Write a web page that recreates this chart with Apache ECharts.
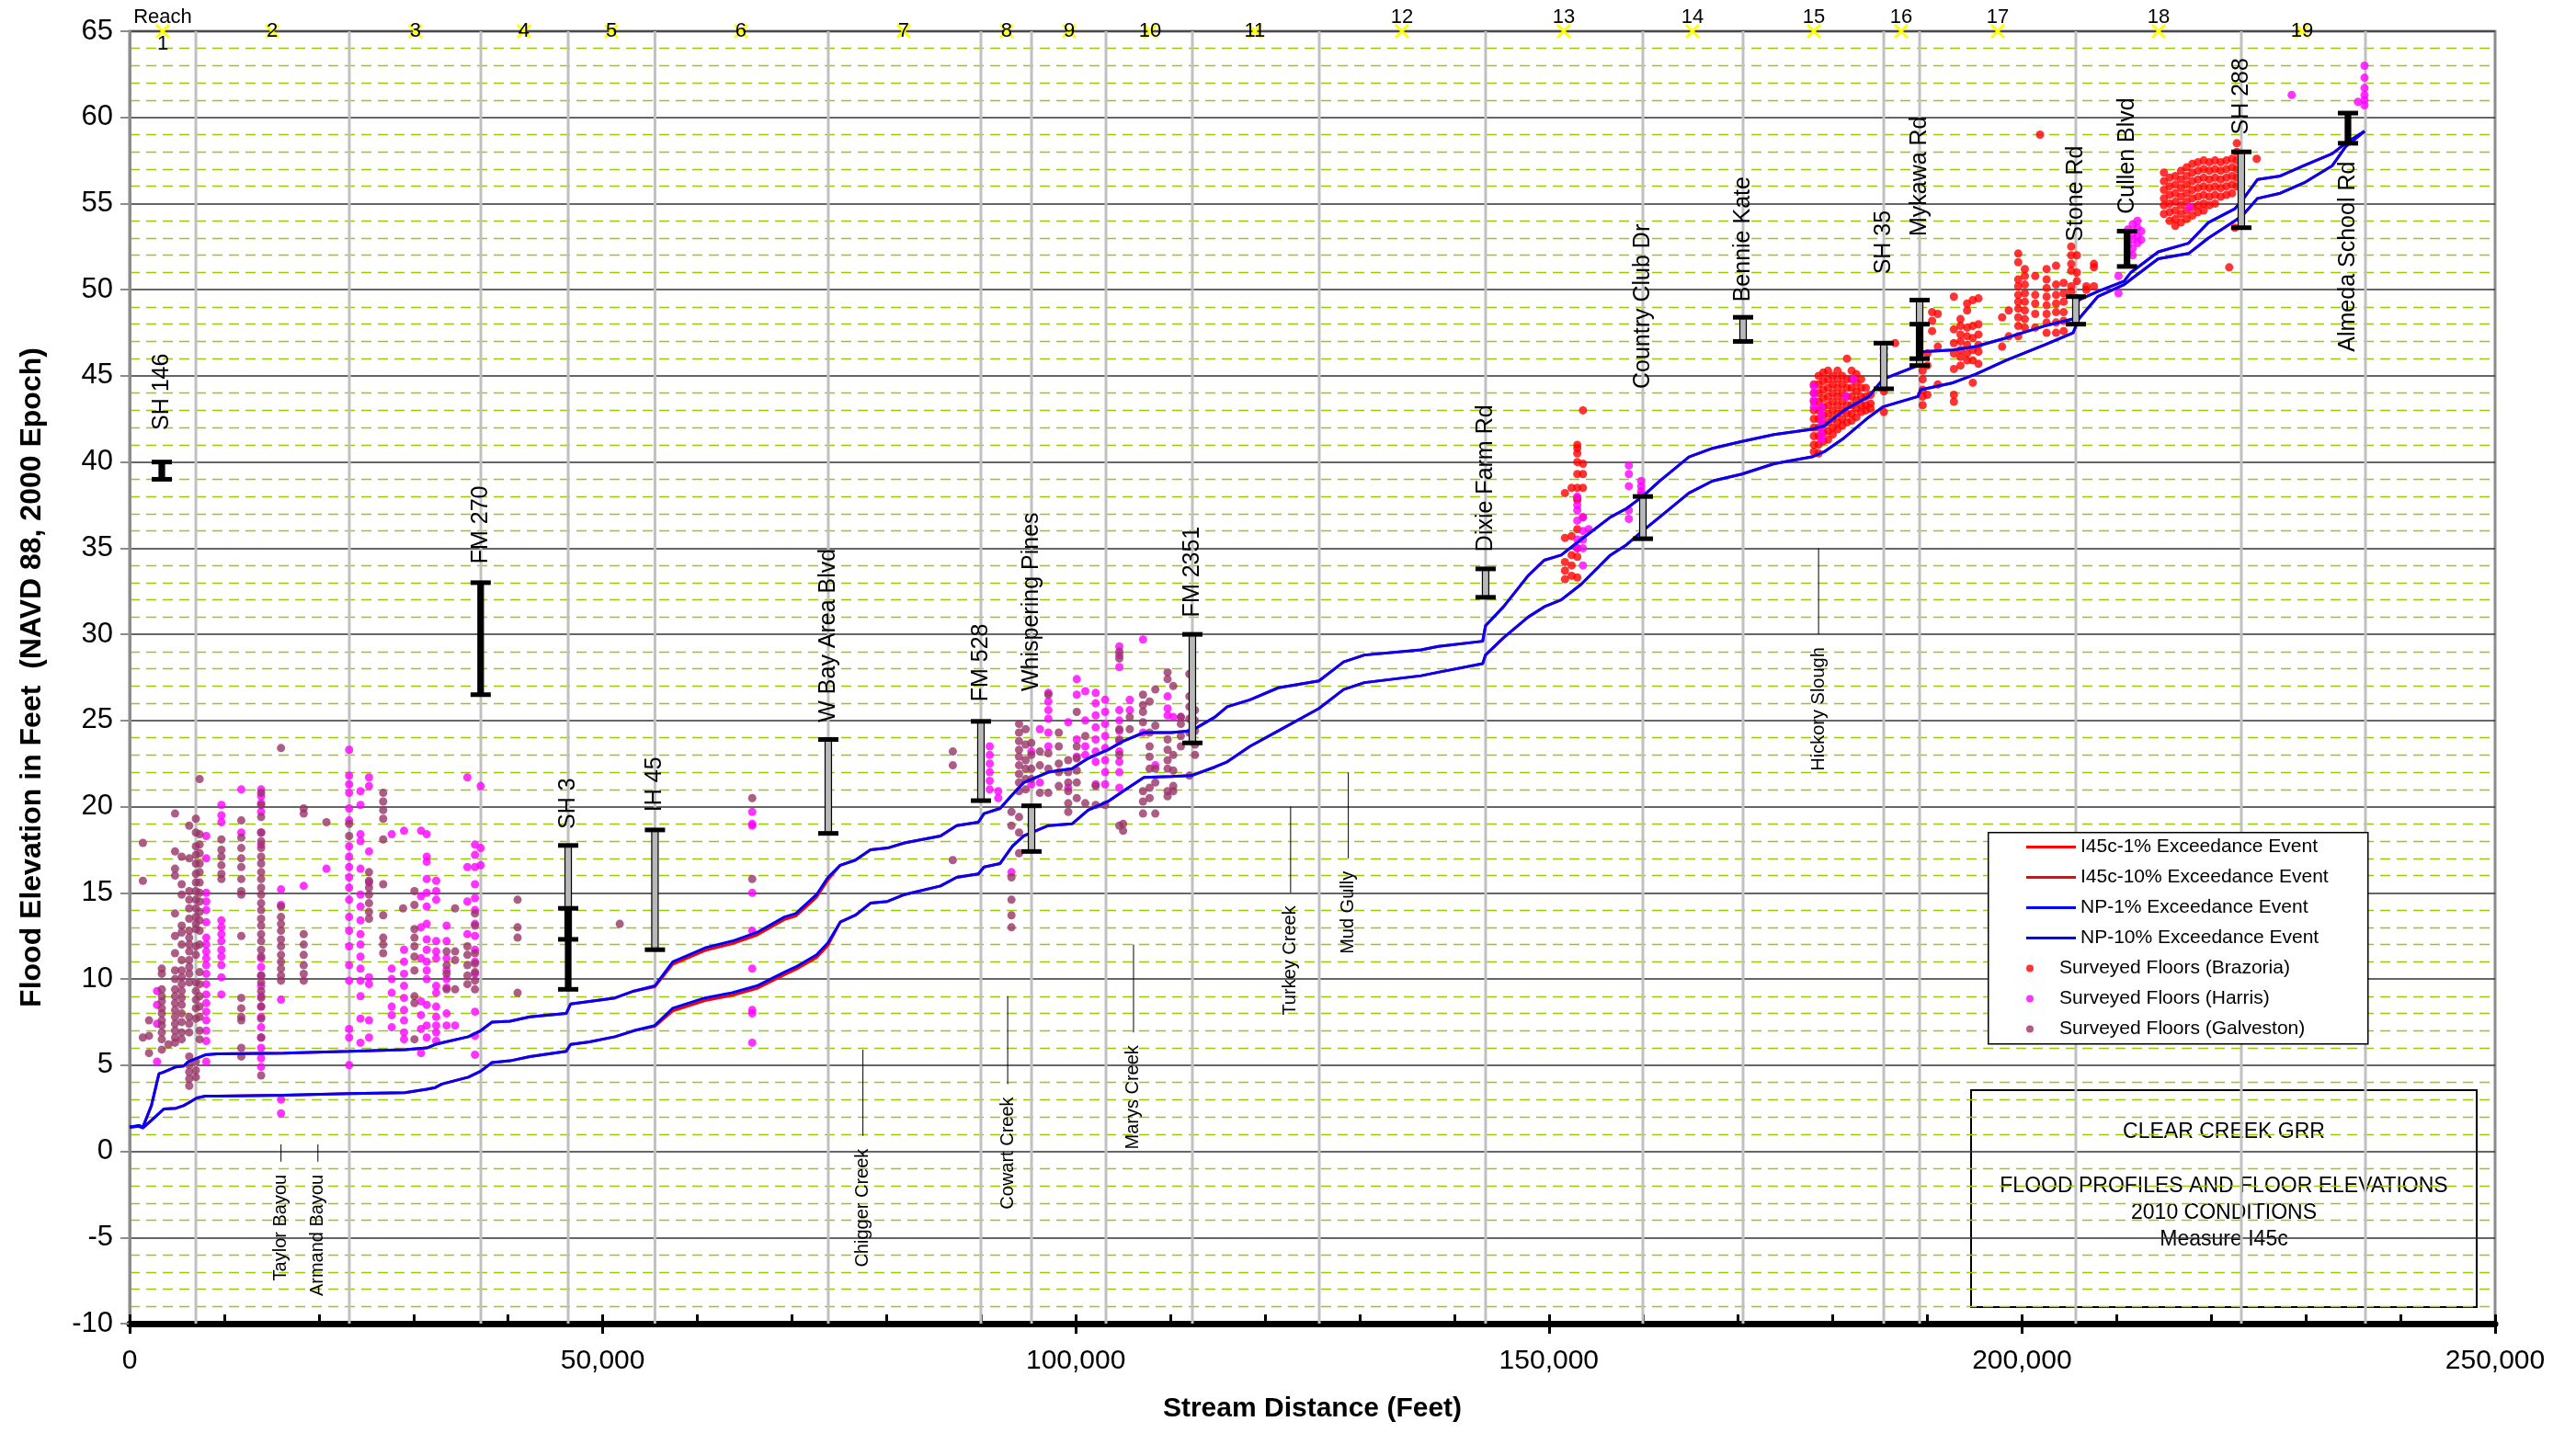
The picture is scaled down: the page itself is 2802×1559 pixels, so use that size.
<!DOCTYPE html>
<html>
<head>
<meta charset="utf-8">
<title>Clear Creek GRR - Flood Profiles and Floor Elevations</title>
<script src="https://cdn.jsdelivr.net/npm/echarts/dist/echarts.min.js"></script>
<style>
  html, body { margin: 0; padding: 0; background: #ffffff; }
  #chart { width: 2802px; height: 1559px; }
</style>
</head>
<body>
<div id="chart"></div>
<script>
// ---------------------------------------------------------------------------
// Data
// ---------------------------------------------------------------------------

// Stream stations (feet) shared by the four water-surface profiles
const stations = [
  0, 1000, 1400, 2300, 3100, 3600, 4900, 5700, 6200, 7100,
  8000, 9300, 16300, 23200, 29100, 31400, 32300, 33000, 35800, 37100,
  38300, 40200, 42300, 46150, 46600, 48600, 51300, 53300, 55500, 57400,
  60800, 63700, 66300, 69200, 70400, 72600, 73800, 75100, 76700, 78300,
  80100, 81900, 85700, 87400, 89700, 90300, 92000, 93300, 94500, 97100,
  99600, 101300, 103400, 105000, 107200, 110100, 112200, 114700, 116000, 118400,
  121400, 125700, 128300, 130500, 136500, 138300, 143000, 143300, 145200, 147800,
  149500, 151300, 153400, 156500, 158200, 159900, 161700, 164800, 167300, 170400,
  173800, 177800, 179100, 181200, 183800, 185300, 189000, 189300, 192700, 195100,
  198300, 202400, 205400, 206000, 208000, 210800, 211500, 214400, 217600, 219700,
  222500, 223300, 224900, 227300, 229800, 232800, 234200, 236200
];

// NP (no project) 1% exceedance water surface, ft
const np1 = [
  1.4, 1.5, 1.4, 2.65, 4.5, 4.6, 4.9, 4.95, 5.2, 5.4,
  5.6, 5.65, 5.7, 5.8, 5.9, 6.0, 6.2, 6.3, 6.65, 7.0,
  7.5, 7.55, 7.8, 8.0, 8.55, 8.7, 8.9, 9.3, 9.6, 11.0,
  11.8, 12.2, 12.7, 13.6, 13.8, 14.9, 15.9, 16.6, 16.9, 17.5,
  17.6, 17.9, 18.3, 18.9, 19.1, 19.6, 19.9, 20.7, 21.4, 22.0,
  22.2, 22.8, 23.3, 23.8, 24.3, 24.3, 24.4, 25.2, 25.8, 26.2,
  26.9, 27.3, 28.4, 28.8, 29.1, 29.3, 29.6, 30.5, 31.6, 33.4,
  34.3, 34.6, 35.5, 36.8, 37.3, 38.0, 38.9, 40.3, 40.8, 41.2,
  41.6, 41.9, 42.1, 43.0, 43.8, 44.8, 45.6, 46.4, 46.5, 46.7,
  47.2, 47.9, 48.3, 49.4, 49.9, 50.5, 51.0, 52.2, 52.7, 53.9,
  54.7, 55.2, 56.4, 56.6, 57.2, 57.9, 58.5, 59.2
];

// NP 10% exceedance water surface, ft
const np10 = [
  1.4, 1.45, 1.35, 1.8, 2.2, 2.45, 2.5, 2.65, 2.8, 3.1,
  3.2, 3.2, 3.25, 3.35, 3.4, 3.6, 3.7, 3.9, 4.3, 4.65,
  5.15, 5.25, 5.5, 5.8, 6.2, 6.35, 6.65, 7.0, 7.3, 8.3,
  8.9, 9.2, 9.6, 10.4, 10.7, 11.4, 12.1, 13.3, 13.7, 14.4,
  14.5, 14.9, 15.4, 15.9, 16.1, 16.5, 16.7, 17.7, 18.3, 18.9,
  19.0, 19.8, 20.3, 20.9, 21.7, 21.75, 21.8, 22.3, 22.6, 23.5,
  24.4, 25.7, 26.8, 27.2, 27.6, 27.8, 28.3, 28.8, 29.8, 31.0,
  31.6, 32.0, 32.9, 34.6, 35.2, 36.0, 36.8, 38.2, 38.9, 39.3,
  39.9, 40.3, 40.6, 41.4, 42.6, 43.2, 43.8, 44.2, 44.6, 45.1,
  45.9, 46.8, 47.5, 48.3, 49.6, 50.3, 50.6, 51.8, 52.1, 53.0,
  54.0, 54.3, 55.3, 55.6, 56.2, 57.2, 58.3, 59.2
];

// Measure I45c 1% exceedance water surface, ft
const i45c1 = [
  1.4, 1.5, 1.4, 2.65, 4.5, 4.6, 4.9, 4.95, 5.2, 5.4,
  5.6, 5.65, 5.7, 5.8, 5.9, 6.0, 6.2, 6.3, 6.65, 7.0,
  7.5, 7.55, 7.8, 8.0, 8.55, 8.7, 8.9, 9.3, 9.55, 10.85,
  11.65, 12.05, 12.55, 13.45, 13.65, 14.75, 15.75, 16.6, 16.9, 17.5,
  17.6, 17.9, 18.3, 18.9, 19.1, 19.6, 19.9, 20.7, 21.4, 22.0,
  22.2, 22.8, 23.3, 23.8, 24.3, 24.3, 24.4, 25.2, 25.8, 26.2,
  26.9, 27.3, 28.4, 28.8, 29.1, 29.3, 29.6, 30.5, 31.6, 33.4,
  34.3, 34.6, 35.5, 36.8, 37.3, 38.0, 38.9, 40.3, 40.8, 41.2,
  41.6, 41.9, 42.1, 43.0, 43.8, 44.8, 45.6, 46.4, 46.5, 46.7,
  47.2, 47.9, 48.3, 49.4, 49.9, 50.5, 51.0, 52.2, 52.7, 53.9,
  54.7, 55.2, 56.4, 56.6, 57.2, 57.9, 58.5, 59.2
];

// Measure I45c 10% exceedance water surface, ft
const i45c10 = [
  1.4, 1.45, 1.35, 1.8, 2.2, 2.45, 2.5, 2.65, 2.8, 3.1,
  3.2, 3.2, 3.25, 3.35, 3.4, 3.6, 3.7, 3.9, 4.3, 4.65,
  5.15, 5.25, 5.5, 5.8, 6.2, 6.35, 6.65, 7.0, 7.25, 8.15,
  8.75, 9.05, 9.45, 10.25, 10.55, 11.25, 11.95, 13.3, 13.7, 14.4,
  14.5, 14.9, 15.4, 15.9, 16.1, 16.5, 16.7, 17.7, 18.3, 18.9,
  19.0, 19.8, 20.3, 20.9, 21.7, 21.75, 21.8, 22.3, 22.6, 23.5,
  24.4, 25.7, 26.8, 27.2, 27.6, 27.8, 28.3, 28.8, 29.8, 31.0,
  31.6, 32.0, 32.9, 34.6, 35.2, 36.0, 36.8, 38.2, 38.9, 39.3,
  39.9, 40.3, 40.6, 41.4, 42.6, 43.2, 43.8, 44.2, 44.6, 45.1,
  45.9, 46.8, 47.5, 48.3, 49.6, 50.3, 50.6, 51.8, 52.1, 53.0,
  54.0, 54.3, 55.3, 55.6, 56.2, 57.2, 58.3, 59.2
];

// Surveyed finished-floor elevations, grouped as [station, [elevations...]]
const floorsBrazoria = [
  [151700, [38.2, 35.6, 34.2, 33.7, 33.2]],
  [152400, [38.5, 35.7, 34.6, 34.0, 33.4]],
  [153000, [41.0, 40.8, 40.5, 40.0, 39.3, 38.5, 37.9, 37.8, 36.1, 35.0, 34.5, 33.3]],
  [153600, [43.0, 39.9, 39.3, 38.5, 36.8]],
  [178000, [44.5, 44.0, 43.5, 43.0, 42.5, 42.0, 41.5, 41.0, 40.6]],
  [178500, [45.0, 44.5, 44.0, 43.5, 43.0, 42.5, 42.0, 41.5, 41.0, 40.5]],
  [179000, [45.2, 44.7, 44.2, 43.7, 43.2, 42.7, 42.2, 41.7, 41.2]],
  [179500, [45.3, 44.8, 44.3, 43.8, 43.3, 42.8, 42.3, 41.8, 41.3]],
  [180000, [45.0, 44.5, 44.0, 43.5, 43.0, 42.5, 42.0, 41.6]],
  [180500, [45.3, 44.8, 44.3, 43.8, 43.3, 42.8, 42.3, 41.9]],
  [181000, [45.0, 44.5, 44.0, 43.5, 43.0, 42.5, 42.1]],
  [181500, [46.0, 44.8, 44.3, 43.8, 43.3, 42.8, 42.3]],
  [182000, [45.3, 44.8, 44.3, 43.8, 43.3, 42.8, 42.4]],
  [182500, [45.1, 44.6, 44.1, 43.6, 43.1, 42.6]],
  [183000, [44.8, 44.3, 43.8, 43.3, 42.9]],
  [183500, [44.3, 43.8, 43.3, 43.0]],
  [184000, [43.9, 43.4, 43.1]],
  [185400, [46.6, 45.9, 45.0, 44.1, 42.9]],
  [186600, [46.9]],
  [189500, [45.3, 44.8, 44.2, 43.8, 43.3]],
  [190000, [46.3, 45.6, 43.9]],
  [190500, [48.7, 48.2, 47.6]],
  [191100, [48.6, 46.7, 44.5]],
  [192800, [49.6, 47.7, 46.9, 46.3, 45.4, 43.9, 43.5]],
  [193500, [48.3, 47.9, 47.4, 47.0, 46.5, 46.1, 45.6]],
  [194200, [49.2, 48.8, 47.8, 47.3, 46.8, 46.3, 45.9]],
  [194800, [49.4, 47.9, 47.2, 46.5, 45.9, 44.6]],
  [195400, [49.5, 48.0, 47.4, 46.8, 46.4, 45.7]],
  [197900, [48.4, 46.7]],
  [198600, [48.8, 47.3]],
  [199600, [52.1, 51.6, 50.6, 50.2, 49.7, 49.3, 48.9, 48.4, 47.9, 47.3]],
  [200300, [51.2, 50.8, 50.3, 49.8, 49.3, 48.8, 48.3, 47.8]],
  [201400, [50.8, 49.7, 49.2, 48.6, 47.8]],
  [201900, [59.0]],
  [202600, [51.2, 50.6, 50.1, 49.6, 49.1, 48.6, 48.1, 47.5]],
  [203600, [51.4, 50.3, 49.7, 49.2, 48.7, 48.1, 47.5]],
  [204400, [50.4, 49.8, 49.3, 48.7, 48.2, 47.6]],
  [205200, [52.5, 52.0, 51.5, 51.1, 50.2, 49.9]],
  [205800, [52.0, 51.0, 50.5, 49.5]],
  [206800, [50.2, 50.0]],
  [207600, [51.5, 51.3, 50.2]],
  [215000, [56.8, 56.3, 55.8, 55.3, 54.9, 54.4]],
  [215600, [56.5, 56.0, 55.5, 55.0, 54.5, 54.0]],
  [216200, [56.6, 56.1, 55.6, 55.1, 54.6, 54.1, 53.7]],
  [216800, [56.9, 56.4, 55.9, 55.4, 54.9, 54.4, 53.9]],
  [217400, [57.1, 56.6, 56.1, 55.6, 55.1, 54.6, 54.1]],
  [218000, [57.3, 56.8, 56.3, 55.8, 55.3, 54.8, 54.3]],
  [218600, [57.4, 56.9, 56.4, 55.9, 55.4, 54.9, 54.5]],
  [219200, [57.5, 57.0, 56.5, 56.0, 55.5, 55.0, 54.6]],
  [219800, [57.4, 56.9, 56.4, 55.9, 55.4, 54.9]],
  [220400, [57.5, 57.0, 56.5, 56.0, 55.5, 55.0]],
  [221000, [57.4, 56.9, 56.4, 55.9, 55.4]],
  [221600, [57.5, 57.0, 56.5, 56.0, 55.5]],
  [221900, [51.3]],
  [222200, [57.6, 57.1, 56.6, 56.1, 55.6]],
  [222500, [53.6]],
  [222700, [58.5, 58.0, 57.5, 57.0, 56.5, 56.0]],
  [224800, [57.6]]
];

const floorsHarris = [
  [2900, [9.3, 8.5, 7.4, 5.2]],
  [8100, [18.3, 17.0, 15.0, 14.5, 14.0, 13.3, 12.4, 12.0, 11.6, 11.2, 10.8, 10.3, 9.7, 9.1, 8.6, 8.1, 7.6, 7.0, 6.4, 5.2]],
  [9700, [20.1, 19.5, 19.1, 13.4, 13.0, 12.6, 12.2, 11.7, 11.3, 10.8, 10.1, 9.1]],
  [11800, [21.0, 18.5]],
  [13900, [21.0, 20.6, 20.2, 19.7, 18.5, 17.8, 11.2, 10.7, 10.2, 9.6, 9.0, 8.4, 7.8, 7.2, 6.6, 6.0, 5.4, 4.9]],
  [16000, [15.2, 14.3, 8.8, 3.0, 2.2]],
  [18400, [15.4]],
  [20800, [16.4]],
  [23200, [23.3, 21.8, 21.3, 20.8, 19.9, 19.2, 17.7, 17.1, 16.5, 15.9, 15.3, 14.6, 13.6, 12.8, 11.9, 10.8, 9.9, 7.1, 6.6, 5.0]],
  [24400, [20.9, 20.1, 18.4, 18.0, 16.4, 14.9, 14.2, 13.4, 12.6, 12.0, 11.3, 10.6, 9.9, 9.0, 7.7, 6.3]],
  [25300, [21.7, 21.2, 17.4, 15.6, 10.1, 9.7, 7.6, 6.6]],
  [27700, [18.4, 10.6, 10.0, 9.2, 8.4, 7.9, 7.2]],
  [29000, [18.6, 11.7, 11.0, 10.3, 9.6, 8.9, 8.2, 7.6, 6.9, 6.5]],
  [30800, [18.6, 14.8, 13.0, 11.2, 8.7, 7.9, 7.1, 5.7]],
  [31400, [18.4, 17.1, 16.8, 15.8, 15.0, 14.2, 13.2, 12.3, 11.7, 11.0, 10.5, 10.0, 8.5, 7.3, 6.6]],
  [32400, [15.7, 15.1, 14.6, 12.2, 11.6, 11.2, 9.6, 9.2, 8.4, 7.8, 7.3, 6.9, 6.4]],
  [33500, [13.1, 12.2, 11.2, 10.5, 10.0, 9.5, 8.0, 7.3]],
  [34400, [7.3]],
  [35700, [21.7, 16.5, 14.5, 12.6]],
  [36500, [17.8, 17.2, 16.5, 15.5, 14.7, 14.0, 13.2, 12.5, 11.7, 11.0, 10.3, 8.1, 6.7, 5.6]],
  [37100, [21.2, 17.6, 16.6]],
  [65800, [19.7, 19.0, 18.9, 15.0, 12.8, 10.6, 8.2, 8.0, 6.3]],
  [90900, [23.5, 23.0, 22.5, 22.0, 21.5, 21.0]],
  [91800, [20.9, 20.5]],
  [93200, [16.2]],
  [95300, [23.2, 21.3]],
  [96200, [24.5, 21.4]],
  [97100, [26.6, 26.1, 25.6, 25.1, 24.3, 23.5]],
  [99200, [24.9, 21.1]],
  [100100, [27.4, 26.5, 23.9, 22.9]],
  [101000, [26.7, 25.0, 23.5, 23.0]],
  [102100, [26.6, 26.0, 25.3, 24.6, 23.9, 23.2, 22.6, 21.3]],
  [103100, [26.2, 25.5, 24.8, 24.1, 23.4, 22.7, 22.0, 21.3]],
  [104600, [29.3, 28.8, 28.1, 25.6, 25.0, 24.4, 23.8, 23.2, 22.6, 22.0, 21.1]],
  [105700, [26.2, 25.6]],
  [107100, [29.7, 24.3]],
  [108400, [22.4]],
  [109700, [26.4, 25.7, 25.3]],
  [110300, [25.2]],
  [111100, [25.2]],
  [153000, [38.0, 37.5, 37.2, 36.6, 35.5, 35.0]],
  [153600, [36.8, 36.0, 35.5, 35.0, 34.0]],
  [154200, [36.1]],
  [158450, [39.8, 39.3, 38.6, 37.2, 36.7]],
  [159750, [38.9, 38.6, 38.3, 38.1]],
  [178000, [44.4, 44.0, 43.6, 43.2]],
  [178800, [43.2, 42.8, 42.4, 42.0, 41.6, 41.3]],
  [181400, [43.8]],
  [182200, [44.8]],
  [185400, [46.2]],
  [210200, [50.8, 49.8]],
  [211200, [53.5, 53.0, 52.6, 52.1]],
  [211700, [53.8, 53.3, 52.9, 52.4, 52.0]],
  [212200, [54.0, 53.6, 53.1, 52.7]],
  [212600, [53.4, 52.9]],
  [217700, [54.8]],
  [228500, [61.3]],
  [235500, [60.9]],
  [236200, [63.0, 62.3, 61.7, 61.3, 61.0, 60.7]]
];

const floorsGalveston = [
  [1400, [17.9, 15.7, 6.6]],
  [2050, [7.6, 6.7, 5.7]],
  [3400, [10.6, 10.3, 9.4, 9.0, 8.7, 8.3, 8.0, 7.6, 7.3, 6.9, 6.5, 5.9]],
  [4100, [6.2]],
  [4800, [19.6, 17.4, 16.4, 16.0, 13.8, 12.5, 11.5, 10.5, 10.0, 9.4, 9.0, 8.6, 8.2, 7.8, 7.4, 7.0, 6.6, 6.3]],
  [5500, [17.1, 15.5, 14.9, 13.1, 12.7, 12.0, 11.1, 10.5, 10.1, 9.7, 9.3, 8.9, 8.5, 8.0, 7.5, 6.9, 6.5]],
  [6300, [18.9, 17.0, 15.1, 14.6, 14.1, 13.5, 12.8, 12.4, 12.0, 11.6, 11.1, 10.7, 10.3, 9.8, 7.8, 7.4, 6.9, 5.5, 5.0, 4.6, 4.2, 3.8]],
  [7000, [19.3, 18.5, 17.7, 17.2, 16.7, 16.1, 15.6, 15.1, 14.6, 14.1, 13.6, 13.2, 12.9, 11.9, 11.4, 9.8, 9.3, 8.8, 8.3, 7.7, 5.2, 4.7, 4.3]],
  [7400, [21.6, 18.4, 17.8, 17.3, 16.7, 16.2, 15.6, 15.0, 14.5, 13.9, 13.4, 12.8, 12.0, 10.4, 9.7, 9.0, 8.4, 7.8, 7.0, 6.5]],
  [9700, [18.1, 17.5, 17.1, 16.6, 16.1, 15.8]],
  [11800, [19.2, 18.2, 17.6, 17.0, 16.5, 15.8, 15.1, 14.9, 12.5, 8.9, 8.3, 7.8, 7.6, 6.0, 5.5]],
  [13900, [20.8, 20.1, 19.4, 18.5, 18.0, 17.6, 17.1, 16.7, 16.2, 15.8, 15.3, 14.9, 14.4, 14.0, 13.5, 13.1, 12.6, 12.2, 11.7, 11.3, 10.2, 9.8, 9.3, 8.9, 8.4, 7.7, 6.6, 4.4]],
  [16000, [23.4, 14.2, 13.6, 13.2, 12.8, 12.3, 11.9, 11.4, 11.0, 10.6, 10.2, 9.9]],
  [18400, [19.9, 19.6, 12.6, 12.0, 11.4, 10.8, 10.3, 9.9]],
  [20800, [19.1]],
  [23200, [19.0, 18.3]],
  [25300, [16.2, 15.7, 15.3, 14.9, 14.4, 13.9, 13.5]],
  [26800, [20.8, 20.3, 19.8, 19.3, 18.1, 15.5, 13.7, 12.4, 12.0, 11.5]],
  [28900, [14.1]],
  [30100, [15.1, 14.3, 12.9, 12.4, 11.9, 11.3, 10.5, 9.0, 8.6, 6.5]],
  [33500, [11.6, 10.8, 10.3, 9.4]],
  [34400, [14.1, 11.6, 11.1, 9.4]],
  [35700, [11.9, 11.4, 10.8, 10.2, 9.7]],
  [36500, [13.8, 13.1, 11.5, 10.9, 10.4, 9.9, 9.4]],
  [41000, [14.6, 13.0, 12.4, 9.2]],
  [51800, [13.2]],
  [65800, [20.5, 15.8]],
  [87000, [23.2, 22.4, 16.9]],
  [93200, [19.7, 18.9, 15.9, 14.6, 13.7, 13.0]],
  [94000, [24.8, 24.3, 23.8, 23.3, 22.9, 22.4, 21.9, 21.4, 20.9, 19.4, 18.5, 17.3]],
  [94700, [24.5, 23.6, 22.7, 22.2, 21.6, 21.0]],
  [95300, [23.7, 23.0, 22.2, 21.6, 18.9]],
  [96200, [23.2, 22.4, 20.8]],
  [97100, [26.5, 23.1, 22.2, 20.8]],
  [98200, [24.3, 23.5, 22.5, 22.0, 21.2]],
  [99200, [22.7, 22.0, 21.4, 20.9, 20.2, 19.7]],
  [100100, [25.5, 23.5, 22.8, 22.1, 21.4, 20.5]],
  [101000, [24.1, 20.2]],
  [102100, [21.2, 20.1]],
  [103100, [20.1]],
  [104600, [29.0, 28.6, 24.5, 23.9, 23.0, 18.9]],
  [105000, [19.0, 18.6]],
  [105700, [25.2, 24.5]],
  [107100, [26.5, 25.9, 25.5, 24.9, 20.9, 20.3, 19.6]],
  [107800, [26.1, 24.3, 23.5, 22.9, 22.2, 21.1, 20.5]],
  [108400, [26.8, 24.7, 22.2, 21.4, 19.6]],
  [109700, [27.8, 27.4, 23.9, 23.3, 22.7, 22.2, 20.9, 20.6]],
  [110300, [27.0, 23.0, 22.1, 21.2, 20.9]],
  [111100, [25.2, 24.8, 24.1, 23.5]],
  [112000, [27.7, 26.4, 25.8, 25.1, 24.3, 21.8]],
  [112600, [25.6, 25.0, 24.4, 23.6, 23.0]]
];

// Bridge openings: [station, low chord / deck bottom, top of road], ft
const bridgeBars = [
  [3400, 39.0, 40.0],
  [37100, 26.5, 33.0],
  [46350, 12.3, 17.75],
  [46350, 9.4, 14.1],
  [55520, 11.7, 18.65],
  [73840, 18.45, 23.9],
  [89970, 20.35, 24.95],
  [95320, 17.4, 20.05],
  [112320, 23.7, 30.0],
  [143310, 32.15, 33.8],
  [159930, 35.55, 38.0],
  [170520, 47.0, 48.4],
  [185390, 44.25, 46.9],
  [189180, 45.6, 49.4],
  [189180, 46.0, 48.0],
  [205690, 48.0, 49.6],
  [211100, 51.35, 53.4],
  [223180, 53.6, 58.0],
  [234450, 58.5, 60.25]
];

// Crossing names: [name, station, elevation where the label starts]
const bridgeNames = [
  ['SH 146', 3400, 41.85],
  ['FM 270', 37100, 34.1],
  ['SH 3', 46350, 18.7],
  ['IH 45', 55520, 19.7],
  ['W Bay Area Blvd', 73840, 24.9],
  ['FM 528', 89970, 26.1],
  ['Whispering Pines', 95320, 26.7],
  ['FM 2351', 112320, 31.0],
  ['Dixie Farm Rd', 143310, 34.8],
  ['Country Club Dr', 159930, 44.25],
  ['Bennie Kate', 170520, 49.3],
  ['SH 35', 185390, 50.9],
  ['Mykawa Rd', 189180, 53.1],
  ['Stone Rd', 205690, 52.8],
  ['Cullen Blvd', 211100, 54.4],
  ['SH 288', 223180, 59.0],
  ['Almeda School Rd', 234450, 46.4]
];

// Tributary confluences: [name, station, leader top, leader bottom]
const tributaries = [
  ['Taylor Bayou', 16000, 0.4, -0.6],
  ['Armand Bayou', 19900, 0.4, -0.6],
  ['Chigger Creek', 77500, 5.9, 0.9],
  ['Cowart Creek', 92800, 9.0, 3.9],
  ['Marys Creek', 106100, 12.0, 6.9],
  ['Turkey Creek', 122700, 20.0, 15.0],
  ['Mud Gully', 128800, 22.0, 17.0],
  ['Hickory Slough', 178500, 35.0, 30.0]
];

// Reach limits and reach label stations, ft
const reachLimits = [
  7000, 23220, 37120, 46350, 55520, 73840, 89970, 95320, 103190, 112320,
  125730, 143310, 159930, 170520, 185390, 189180, 205690, 223180, 236300
];
const reachStations = [
  3500, 15060, 30200, 41680, 50920, 64610, 81800, 92690, 99300, 107850,
  118920, 134470, 151570, 165170, 178000, 187230, 197430, 214430, 229590
];
const reachNames = ['1', '2', '3', '4', '5', '6', '7', '8', '9', '10',
  '11', '12', '13', '14', '15', '16', '17', '18', '19'];

// Axis ranges and tick spacing
const xRange = [0, 250000];
const yRange = [-10, 65];
const xMajor = 50000;
const xMinor = 10000;
const yMajor = 5;

const titleLines = ['CLEAR CREEK GRR', '', 'FLOOD PROFILES AND FLOOR ELEVATIONS', '2010 CONDITIONS', 'Measure I45c'];

// ---------------------------------------------------------------------------
// Chart
// ---------------------------------------------------------------------------
const FONT = '"Liberation Sans", Arial, Helvetica, sans-serif';
const LINE_ICON = 'path://M0,0L54,0L54,3L0,3Z';

function profile(values) {
  return stations.map((s, i) => [s, values[i]]);
}
function floorPoints(groups) {
  const pts = [];
  groups.forEach(([x, ys]) => ys.forEach(y => pts.push([x, y])));
  return pts;
}

// crossings drawn as solid black bars
const SOLID_BARS = new Set([0, 1, 3, 14, 16, 18]);

const chart = echarts.init(document.getElementById('chart'), null, { renderer: 'canvas' });

const option = {
  animation: false,
  backgroundColor: '#ffffff',
  textStyle: { fontFamily: FONT, color: '#000' },
  grid: {
    left: 141, right: 88, top: 34, bottom: 119,
    show: true, borderColor: '#8c8c8c', borderWidth: 3, backgroundColor: 'transparent'
  },
  xAxis: [
    {
      type: 'value', min: xRange[0], max: xRange[1], interval: xMajor,
      name: 'Stream Distance (Feet)', nameLocation: 'middle', nameGap: 78,
      nameTextStyle: { fontSize: 30, fontWeight: 'bold', color: '#000', fontFamily: FONT },
      axisLine: { show: true, onZero: false, lineStyle: { color: '#000', width: 7 } },
      axisTick: { show: true, length: 11, lineStyle: { color: '#000', width: 3 } },
      axisLabel: {
        fontSize: 30, color: '#000', margin: 26, fontFamily: FONT,
        formatter: v => v.toLocaleString('en-US')
      },
      splitLine: { show: false }
    },
    {
      type: 'value', min: xRange[0], max: xRange[1], interval: xMinor,
      position: 'bottom', gridIndex: 0,
      axisLine: { show: false, onZero: false },
      axisTick: { show: true, inside: true, length: 10, lineStyle: { color: '#000', width: 3 } },
      axisLabel: { show: false },
      splitLine: { show: false }
    }
  ],
  yAxis: {
    type: 'value', min: yRange[0], max: yRange[1], interval: yMajor,
    name: 'Flood Elevation in Feet  (NAVD 88, 2000 Epoch)', nameLocation: 'middle', nameGap: 90,
    nameTextStyle: { fontSize: 32, fontWeight: 'bold', color: '#000', fontFamily: FONT },
    axisLine: { show: true, onZero: false, lineStyle: { color: '#8c8c8c', width: 3 } },
    axisTick: { show: true, length: 10, lineStyle: { color: '#8c8c8c', width: 2 } },
    axisLabel: { fontSize: 31, color: '#000', margin: 18, fontFamily: FONT },
    splitLine: { show: true, lineStyle: { color: '#333333', width: 1.6 } },
    minorTick: { show: false, splitNumber: 5 },
    minorSplitLine: { show: true, lineStyle: { color: '#99cc00', width: 1.4, type: [11, 7] } }
  },
  legend: [
    {
      data: [
        { name: 'I45c-1% Exceedance Event', icon: LINE_ICON },
        { name: 'I45c-10% Exceedance Event', icon: LINE_ICON },
        { name: 'NP-1% Exceedance Event', icon: LINE_ICON },
        { name: 'NP-10% Exceedance Event', icon: LINE_ICON }
      ],
      orient: 'vertical', left: 2204, top: 911, padding: 0,
      itemWidth: 54, itemHeight: 14, itemGap: 12, selectedMode: false, z: 8,
      textStyle: { fontSize: 21, color: '#000', fontFamily: FONT }
    },
    {
      data: ['Surveyed Floors (Brazoria)', 'Surveyed Floors (Harris)', 'Surveyed Floors (Galveston)'],
      orient: 'vertical', left: 2204, top: 1043, padding: 0, icon: 'circle',
      itemWidth: 54, itemHeight: 8, itemGap: 12, selectedMode: false, z: 8,
      textStyle: { fontSize: 21, color: '#000', fontFamily: FONT }
    }
  ],
  graphic: [
    {
      type: 'rect', z: 6, left: 2162, top: 905,
      shape: { width: 413, height: 230 },
      style: { fill: '#ffffff', stroke: '#000', lineWidth: 1.5 }
    },
    {
      type: 'group', z: 6, left: 2143, top: 1185,
      children: [
        { type: 'rect', shape: { x: 0, y: 0, width: 550, height: 236 }, style: { fill: '#ffffff', stroke: '#000', lineWidth: 2 } },
        ...titleLines.map((t, i) => ({
          type: 'text', x: 275, y: [46, 0, 105, 134, 163][i],
          style: { text: t, fill: '#000', font: '23px ' + FONT, align: 'center', verticalAlign: 'middle' }
        }))
      ]
    }
  ],
  series: [
    // reach limit lines
    {
      type: 'custom', name: 'reach limits', silent: true, z: 1,
      data: reachLimits.map(x => [x]),
      renderItem: (params, api) => {
        const x = api.value(0);
        const a = api.coord([x, yRange[1]]), b = api.coord([x, yRange[0]]);
        return { type: 'line', shape: { x1: a[0], y1: a[1], x2: b[0], y2: b[1] },
          style: { stroke: '#c0c0c0', lineWidth: 3 } };
      }
    },
    // surveyed floors
    {
      type: 'scatter', name: 'Surveyed Floors (Brazoria)', z: 2,
      data: floorPoints(floorsBrazoria), symbol: 'circle', symbolSize: 9,
      itemStyle: { color: '#ff0000' }
    },
    {
      type: 'scatter', name: 'Surveyed Floors (Harris)', z: 2,
      data: floorPoints(floorsHarris), symbol: 'circle', symbolSize: 9,
      itemStyle: { color: '#ff00ff' }
    },
    {
      type: 'scatter', name: 'Surveyed Floors (Galveston)', z: 2,
      data: floorPoints(floorsGalveston), symbol: 'circle', symbolSize: 9,
      itemStyle: { color: '#993366' }
    },
    // water surface profiles
    {
      type: 'line', name: 'I45c-1% Exceedance Event', z: 3, data: profile(i45c1),
      showSymbol: false, symbol: 'none', lineStyle: { color: '#ff0000', width: 3 }, itemStyle: { color: '#ff0000' }
    },
    {
      type: 'line', name: 'I45c-10% Exceedance Event', z: 3, data: profile(i45c10),
      showSymbol: false, symbol: 'none', lineStyle: { color: '#ff0000', width: 3 }, itemStyle: { color: '#ff0000' }
    },
    {
      type: 'line', name: 'NP-1% Exceedance Event', z: 3, data: profile(np1),
      showSymbol: false, symbol: 'none', lineStyle: { color: '#0000ff', width: 3 }, itemStyle: { color: '#0000ff' }
    },
    {
      type: 'line', name: 'NP-10% Exceedance Event', z: 3, data: profile(np10),
      showSymbol: false, symbol: 'none', lineStyle: { color: '#0000ff', width: 3 }, itemStyle: { color: '#0000ff' }
    },
    // bridge openings
    {
      type: 'custom', name: 'bridges', silent: true, z: 4,
      data: bridgeBars,
      renderItem: (params, api) => {
        const x = api.value(0);
        const top = api.coord([x, api.value(2)]), bot = api.coord([x, api.value(1)]);
        const solid = SOLID_BARS.has(params.dataIndex);
        const bw = solid ? 6 : 7, cw = 22, ch = 5;
        return {
          type: 'group', children: [
            { type: 'rect', shape: { x: top[0] - bw / 2, y: top[1], width: bw, height: bot[1] - top[1] },
              style: { fill: solid ? '#000' : '#b8b8b8', stroke: '#000', lineWidth: 1.2 } },
            { type: 'rect', shape: { x: top[0] - cw / 2, y: top[1] - ch / 2, width: cw, height: ch }, style: { fill: '#000' } },
            { type: 'rect', shape: { x: bot[0] - cw / 2, y: bot[1] - ch / 2, width: cw, height: ch }, style: { fill: '#000' } }
          ]
        };
      }
    },
    // bridge names
    {
      type: 'custom', name: 'bridge names', silent: true, z: 4,
      data: bridgeNames.map(b => [b[1], b[2]]),
      renderItem: (params, api) => {
        const p = api.coord([api.value(0), api.value(1)]);
        return { type: 'text', x: p[0], y: p[1], rotation: Math.PI / 2,
          style: { text: bridgeNames[params.dataIndex][0], fill: '#000', font: '25px ' + FONT,
            align: 'left', verticalAlign: 'middle' } };
      }
    },
    // tributary leaders and names
    {
      type: 'custom', name: 'tributaries', silent: true, z: 4,
      data: tributaries.map(t => [t[1], t[2], t[3]]),
      renderItem: (params, api) => {
        const x = api.value(0);
        const a = api.coord([x, api.value(1)]), b = api.coord([x, api.value(2)]);
        return {
          type: 'group', children: [
            { type: 'line', shape: { x1: a[0], y1: a[1], x2: b[0], y2: b[1] }, style: { stroke: '#000', lineWidth: 1 } },
            { type: 'text', x: b[0], y: b[1] + 14, rotation: Math.PI / 2,
              style: { text: tributaries[params.dataIndex][0], fill: '#000', font: '20px ' + FONT,
                align: 'right', verticalAlign: 'middle' } }
          ]
        };
      }
    },
    // reach markers along the top
    {
      type: 'custom', name: 'reaches', silent: true, z: 5,
      data: reachStations.map(x => [x, yRange[1]]),
      renderItem: (params, api) => {
        const i = params.dataIndex;
        const p = api.coord([api.value(0), api.value(1)]);
        const s = 7;
        const tf = '22px ' + FONT;
        const kids = [
          { type: 'line', shape: { x1: p[0] - s, y1: p[1] - s, x2: p[0] + s, y2: p[1] + s }, style: { stroke: '#ffff00', lineWidth: 3 } },
          { type: 'line', shape: { x1: p[0] - s, y1: p[1] + s, x2: p[0] + s, y2: p[1] - s }, style: { stroke: '#ffff00', lineWidth: 3 } }
        ];
        let dy = 0;
        if (i === 0) dy = 14; else if (i >= 11 && i <= 17) dy = -15;
        kids.push({ type: 'text', x: p[0], y: p[1] + dy,
          style: { text: reachNames[i], fill: '#000', font: tf, align: 'center', verticalAlign: 'middle' } });
        if (i === 0) {
          kids.push({ type: 'text', x: p[0], y: p[1] - 15,
            style: { text: 'Reach', fill: '#000', font: tf, align: 'center', verticalAlign: 'middle' } });
        }
        return { type: 'group', children: kids };
      }
    }
  ]
};

chart.setOption(option);
</script>
</body>
</html>
